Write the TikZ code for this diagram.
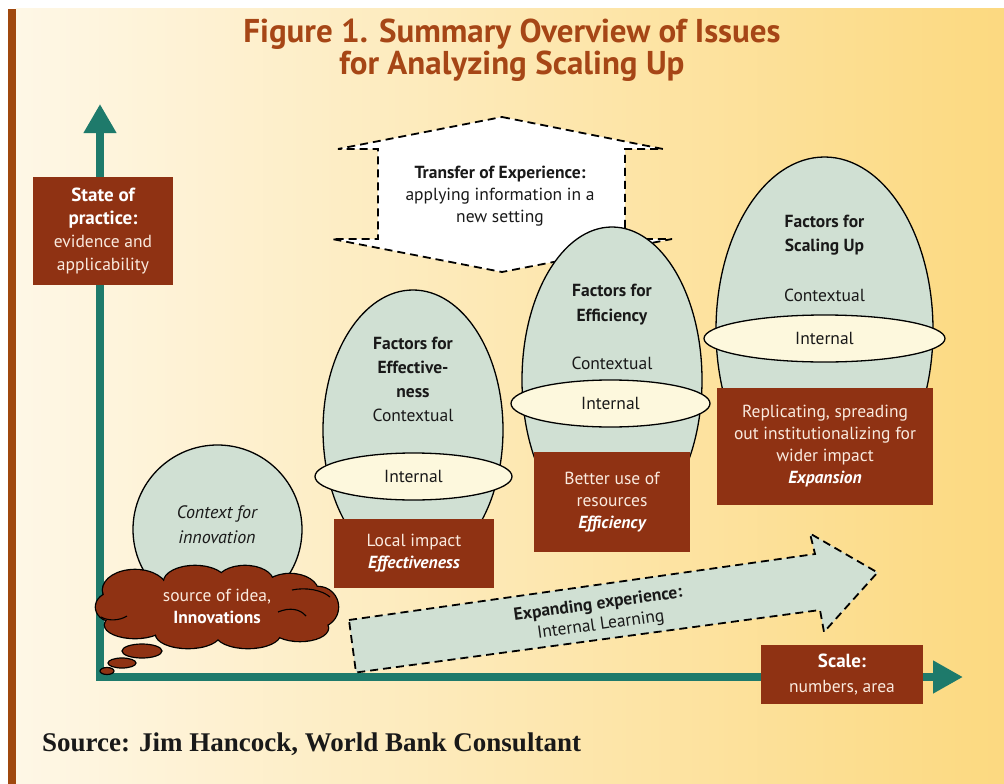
\documentclass[tikz,border=0pt]{standalone}
\usepackage{fontspec}
\setmainfont{PT Sans}
\newfontfamily\titlefont{PT Sans}
\newfontfamily\sourcefont{Liberation Serif}
\usetikzlibrary{shapes.geometric,arrows.meta}

\definecolor{rust}{RGB}{143,50,19}
\definecolor{axisgreen}{RGB}{30,122,107}
\definecolor{sage}{RGB}{208,224,211}
\definecolor{ivory}{RGB}{253,248,221}
\definecolor{titlebrown}{RGB}{166,70,22}
\definecolor{barbrown}{RGB}{160,72,14}
\definecolor{paleleft}{RGB}{254,247,230}
\definecolor{goldright}{RGB}{252,217,128}
\definecolor{ink}{RGB}{25,25,25}
\definecolor{boxtext}{RGB}{250,234,222}

\newcommand{\bodysize}{\fontsize{17.5}{22}\selectfont}
% lobes of the idea cloud: centre x, centre y, x radius, y radius
\newcommand{\cloudlobes}{135/590/32/20, 195/582/31/16, 245/582/28/16, 290/592/28/18, 318/607/20/20,
  300/628/28/13, 248/634/32/14, 188/634/32/14, 135/625/30/13, 112/607/16/14, 217/608/100/28}

\begin{document}
\begin{tikzpicture}[x=1pt,y=-1pt,
  rustbox/.style={fill=rust, text=boxtext, inner sep=0pt, align=center, font=\bodysize},
  eggshape/.style={ellipse, draw=black, line width=1.3pt, fill=sage, inner sep=0pt},
  innerring/.style={ellipse, draw=black, line width=1.3pt, fill=ivory, inner sep=0pt, text=ink, font=\bodysize},
  eggtext/.style={text=ink, align=center, font=\bodysize, inner sep=0pt},
  dashedge/.style={draw=black, line width=1.8pt, dash pattern=on 8pt off 5pt},
  axisline/.style={draw=axisgreen, line width=7.5pt, arrows={Triangle[length=29pt,width=31pt]-Triangle[length=30pt,width=31pt]}},
  bubble/.style={ellipse, draw=black, line width=1.2pt, fill=rust, inner sep=0pt},
  puffline/.style={draw=black, line width=1.1pt},
]
\useasboundingbox (0,0) rectangle (1004,784);

% page background and side bar
\fill[white] (0,0) rectangle (1004,784);
\shade[left color=paleleft, right color=goldright] (16,9) rectangle (1004,784);
\fill[barbrown] (8,9) rectangle (16,784);

% heading
\node[font=\titlefont\bfseries\fontsize{33}{30}\selectfont, text=titlebrown, align=center] (title) at (512,50)
  {Figure 1. Summary Overview of Issues\\for Analyzing Scaling Up};

% axes
\coordinate (ytip) at (100,104);
\coordinate (origin) at (100,677);
\coordinate (xtip) at (963,677);
\draw[axisline] (ytip) -- (origin) -- (xtip);

\node[rustbox, minimum width=140pt, minimum height=108pt, font=\fontsize{17.5}{23}\selectfont] (state) at (103,231)
  {\textbf{\color{white}\fontsize{19}{23}\selectfont State of}\\\textbf{\color{white}\fontsize{19}{23}\selectfont practice:}\\evidence and\\applicability};
\node[rustbox, minimum width=162pt, minimum height=59pt, font=\fontsize{17.5}{25}\selectfont] (scale) at (842,674.5)
  {\textbf{\color{white}\fontsize{19}{25}\selectfont Scale:}\\numbers, area};

% transfer of experience (double arrow)
\draw[dashedge, fill=white] (502,117) -- (663,149) -- (625,149) -- (625,239) -- (672,239) -- (502,272)
  -- (332,239) -- (378,239) -- (378,149) -- (338,149) -- cycle;
\node[eggtext] (transfer) at (500,196)
  {\textbf{Transfer of Experience:}\\applying information in a\\new setting};

% innovation stage
\node[circle, draw=black, line width=1.3pt, fill=sage, minimum size=169pt, inner sep=0pt] (context) at (217.5,529.5) {};
\node[eggtext, font=\fontsize{18}{25}\selectfont\itshape] (contexttext) at (217,524.5) {Context for\\innovation};

% effectiveness stage
\node[eggshape, minimum width=180pt, minimum height=280pt] (egg1) at (413,430) {};
\node[eggtext, font=\fontsize{17.5}{24}\selectfont] (egg1title) at (413,379)
  {\textbf{Factors for}\\\textbf{Effective-}\\\textbf{ness}\\Contextual};
\node[innerring, minimum width=197pt, minimum height=47pt] (ring1) at (413.5,476.5) {Internal};
\node[rustbox, minimum width=160pt, minimum height=69pt] (box1) at (414,553.5)
  {Local impact\\\textbf{\itshape\color{white}Effectiveness}};

% source-of-idea cloud: outlined lobes, then filled lobes on top
\foreach \cx/\cy/\rx/\ry in \cloudlobes
  \draw[black, line width=2.6pt] (\cx,\cy) ellipse [x radius=\rx, y radius=\ry];
\foreach \cx/\cy/\rx/\ry in \cloudlobes
  \fill[rust] (\cx,\cy) ellipse [x radius=\rx, y radius=\ry];
% inner puff creases
\draw[puffline] (101,617) .. controls (108,621) and (119,621) .. (127,616);
\draw[puffline] (278,612) .. controls (290,607) and (300,609) .. (306,616);
\draw[puffline] (292,590) .. controls (306,587) and (322,590) .. (330,597);
\node[eggtext, text=boxtext] (cloudtext) at (217,606) {source of idea,\\\textbf{\color{white}Innovations}};
\node[bubble, minimum width=40pt, minimum height=14pt] (bubbleA) at (142,651) {};
\node[bubble, minimum width=28pt, minimum height=10pt] (bubbleB) at (122,663) {};
\node[bubble, minimum width=14pt, minimum height=7pt] (bubbleC) at (107,671) {};

% efficiency stage
\node[eggshape, minimum width=180pt, minimum height=306pt] (egg2) at (612,380) {};
\node[eggtext, font=\fontsize{17.5}{25}\selectfont] (egg2title) at (612,304.5) {\textbf{Factors for}\\\textbf{Efficiency}};
\node[eggtext] (egg2ctx) at (612,363) {Contextual};
\node[innerring, minimum width=199pt, minimum height=47pt] (ring2) at (610.5,403.5) {Internal};
\node[rustbox, minimum width=156pt, minimum height=100pt] (box2) at (612,502)
  {Better use of\\resources\\\textbf{\itshape\color{white}Efficiency}};

% scaling-up stage
\node[eggshape, minimum width=217pt, minimum height=346pt] (egg3) at (824.5,330) {};
\node[eggtext, font=\fontsize{17.5}{24}\selectfont] (egg3title) at (824.5,235) {\textbf{Factors for}\\\textbf{Scaling Up}};
\node[eggtext] (egg3ctx) at (824.5,295) {Contextual};
\node[innerring, minimum width=241pt, minimum height=47pt] (ring3) at (824.5,338.5) {Internal};
\node[rustbox, minimum width=216pt, minimum height=117pt] (box3) at (825,446.5)
  {Replicating, spreading\\out institutionalizing for\\wider impact\\\textbf{\itshape\color{white}Expansion}};

% expanding experience arrow
\draw[dashedge, fill=sage] (349,620) -- (815,554) -- (810,533.5) -- (877.5,572.5) -- (824,632)
  -- (820,610) -- (356,672.5) -- cycle;
\node[eggtext, rotate=8, font=\fontsize{17.5}{21}\selectfont] (expand) at (599.5,615) {\textbf{Expanding experience:}\\Internal Learning};

% credit line
\node[font=\sourcefont\bfseries\fontsize{27}{27}\selectfont, text=ink, anchor=base west, inner sep=0pt] (source) at (42,751)
  {Source: Jim Hancock, World Bank Consultant};
\end{tikzpicture}
\end{document}
